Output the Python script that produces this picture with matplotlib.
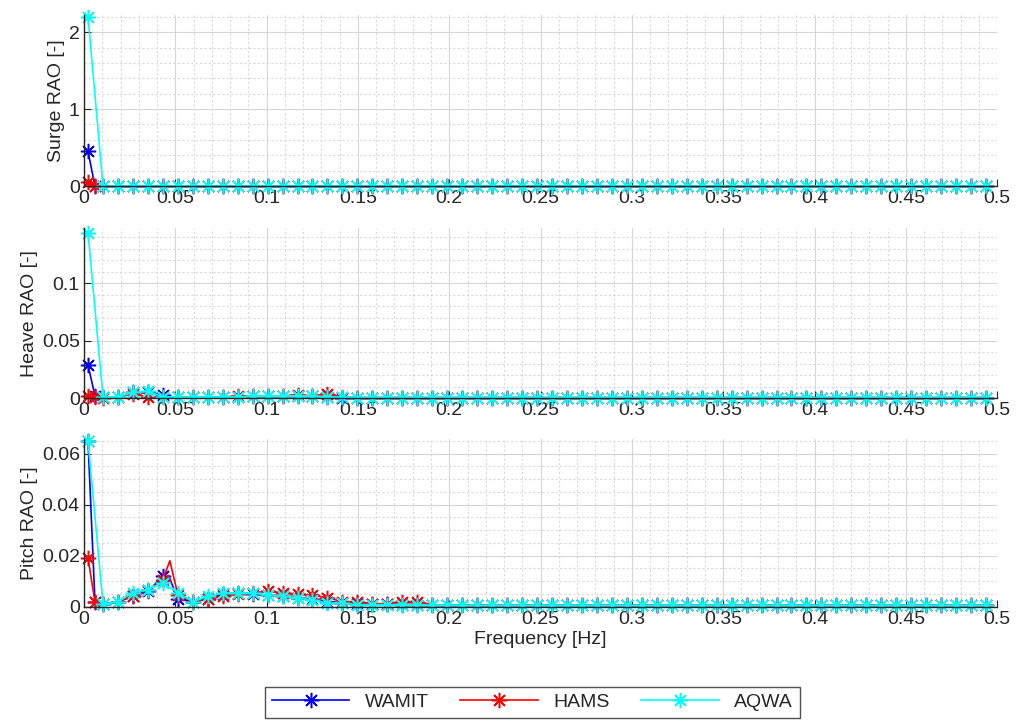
import numpy as np
import matplotlib
matplotlib.use('Agg')
import matplotlib.pyplot as plt
from matplotlib.ticker import MultipleLocator

plt.rcParams['font.family'] = ['Liberation Sans', 'DejaVu Sans']

# frequency grid of the AQWA run [Hz]
freq = np.round(np.linspace(0.0022, 0.494, 61), 4)
# WAMIT / HAMS use the same grid plus two extra points (0.006 and 0.047 Hz)
freq_wh = np.insert(freq, [1, 6], [0.006, 0.047])

# ---- surge RAO
surge_aqwa = [2.2] + [0.0] * 60
surge_wamit = [0.45] + [0.0] * 62
surge_hams = [0.05] + [0.0] * 62

# ---- heave RAO
heave_aqwa = [0.144, 0.001, 0.001, 0.005, 0.006, 0.001, 0.001, 0.001, 0.001, 0.001,
              0.001, 0.002, 0.002, 0.002, 0.002, 0.002, 0.001, 0.001] + [0.0005] * 43
heave_wamit = [0.029, 0.002, 0.001, 0.001, 0.005, 0.005, 0.0025, 0.001, 0.001, 0.001,
               0.001, 0.001, 0.001, 0.002, 0.002, 0.002, 0.002, 0.002, 0.001] + [0.0005] * 44
heave_hams = [0.002, 0.001, 0.0005, 0.001, 0.004, 0.001, 0.001, 0.001, 0.001, 0.001,
              0.001, 0.001, 0.002, 0.002, 0.002, 0.002, 0.003, 0.002, 0.004, 0.001] + [0.0005] * 43

# ---- pitch RAO
pitch_aqwa = [0.065, 0.001, 0.002, 0.0055, 0.0067, 0.0093, 0.0054, 0.002, 0.004, 0.0054,
              0.0054, 0.0054, 0.0047, 0.004, 0.0034, 0.0027, 0.0014, 0.0014, 0.0008, 0.0008,
              0.0008, 0.0008, 0.0008, 0.0006, 0.0006] + [0.0005] * 36
pitch_wamit = [0.065, 0.002, 0.001, 0.002, 0.004, 0.006, 0.012, 0.011, 0.003, 0.002,
               0.003, 0.005, 0.0055, 0.005, 0.0045, 0.004, 0.0035, 0.003, 0.002, 0.0015,
               0.001, 0.001, 0.001, 0.0008, 0.0008, 0.0006] + [0.0005] * 37
pitch_hams = [0.019, 0.002, 0.001, 0.002, 0.004, 0.0067, 0.0106, 0.018, 0.0047, 0.002,
              0.003, 0.004, 0.005, 0.0055, 0.006, 0.0055, 0.005, 0.0045, 0.0035, 0.002,
              0.002, 0.0012, 0.0012, 0.002, 0.002, 0.0008] + [0.0005] * 37

xticks = [0, 0.05, 0.1, 0.15, 0.2, 0.25, 0.3, 0.35, 0.4, 0.45, 0.5]
xtick_labels = ['0', '0.05', '0.1', '0.15', '0.2', '0.25', '0.3', '0.35', '0.4', '0.45', '0.5']

panels = [
    ('Surge RAO [-]', surge_wamit, surge_hams, surge_aqwa, 2.22, [0, 1, 2], ['0', '1', '2'], 0.2),
    ('Heave RAO [-]', heave_wamit, heave_hams, heave_aqwa, 0.148, [0, 0.05, 0.1], ['0', '0.05', '0.1'], 0.01),
    ('Pitch RAO [-]', pitch_wamit, pitch_hams, pitch_aqwa, 0.0655, [0, 0.02, 0.04, 0.06],
     ['0', '0.02', '0.04', '0.06'], 0.005),
]
boxes = [(0.0825, 0.743, 0.897, 0.236),
         (0.0825, 0.450, 0.897, 0.235),
         (0.0825, 0.162, 0.897, 0.231)]

fig = plt.figure(figsize=(10.18, 7.24), dpi=100)
tc = '#262626'
star = (8, 2, 0)  # matlab style asterisk
mk = dict(marker=star, markersize=11, markeredgewidth=1.1, linewidth=1.2)
# the 0.047 Hz point of WAMIT/HAMS (index 7) shows as a bare vertex
i_047 = int(np.where(freq_wh == 0.047)[0][0])
mark_wh = [j for j in range(len(freq_wh)) if j != i_047]

for i, (lab, w, h, a, ymax, yt, ytl, ymin) in enumerate(panels):
    ax = fig.add_axes(boxes[i])
    l1, = ax.plot(freq_wh, w, color='#0000ff', label='WAMIT', markevery=mark_wh, **mk)
    l2, = ax.plot(freq_wh, h, color='#ff0000', label='HAMS', markevery=mark_wh, **mk)
    l3, = ax.plot(freq, a, color='#00ffff', label='AQWA', **mk)
    for l in (l1, l2, l3):
        l.set_clip_on(False)
    ax.set_xlim(0, 0.5)
    ax.set_xticks(xticks)
    ax.set_xticklabels(xtick_labels)
    ax.xaxis.set_minor_locator(MultipleLocator(0.01))
    ax.set_yticks(yt)
    ax.set_yticklabels(ytl)
    ax.yaxis.set_minor_locator(MultipleLocator(ymin))
    ax.set_ylim(0, ymax)
    ax.grid(which='major', color='#d6d6d6', linewidth=0.8, linestyle='-')
    ax.grid(which='minor', color='#d9d9d9', linewidth=0.8, linestyle=(0, (2, 2)))
    ax.set_axisbelow(True)
    for s in ('top', 'right'):
        ax.spines[s].set_visible(False)
    for s in ('left', 'bottom'):
        ax.spines[s].set_color(tc)
        ax.spines[s].set_linewidth(1.0)
    ax.tick_params(which='major', direction='in', length=5, colors=tc, labelsize=14, pad=3)
    ax.tick_params(which='minor', length=0)
    ax.set_ylabel(lab, fontsize=14, color=tc, labelpad=3)
    if i == 2:
        ax.set_xlabel('Frequency [Hz]', fontsize=14, color=tc, labelpad=2)

leg = fig.legend(handles=[l1, l2, l3], loc='center', bbox_to_anchor=(0.523, 0.03), ncol=3,
                 fontsize=14, frameon=True, fancybox=False, handlelength=4.0,
                 columnspacing=1.6, borderpad=0.35)
leg.get_frame().set_edgecolor(tc)
leg.get_frame().set_linewidth(1.0)
for t in leg.get_texts():
    t.set_color(tc)

fig.savefig('out.png', dpi=100)
